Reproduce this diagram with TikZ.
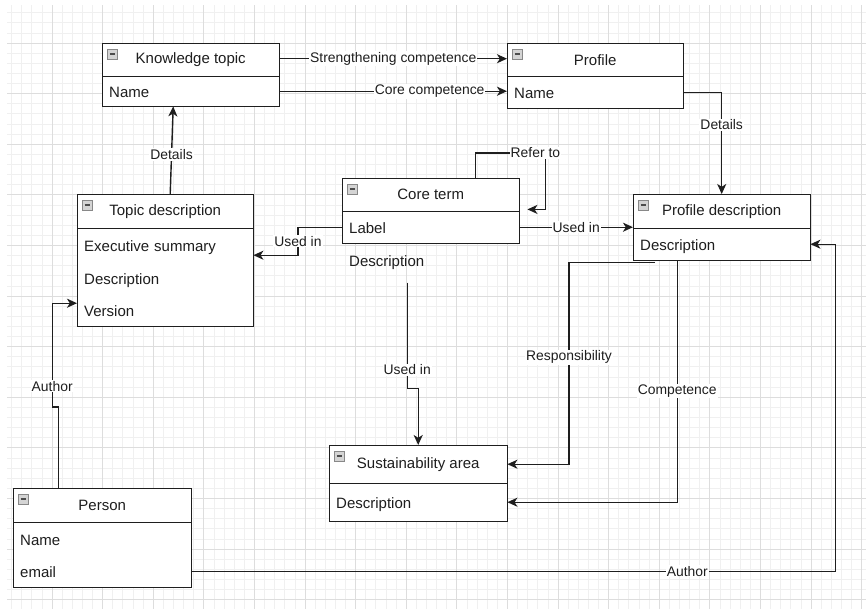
\documentclass[tikz,border=0pt]{standalone}
\usepackage{fontspec}
\setmainfont{Liberation Sans}
\usetikzlibrary{arrows.meta}
\definecolor{ink}{HTML}{1E1E1E}
\definecolor{gridminor}{HTML}{F0F0F0}
\definecolor{gridmajor}{HTML}{DDDDDD}
\definecolor{iconfill}{HTML}{D4D4D4}
\definecolor{icondraw}{HTML}{888888}
\tikzset{
  boxframe/.style={draw=ink, line width=1.4pt, fill=white, rectangle, inner sep=0pt},
  hdr/.style={rectangle, inner sep=0pt, font=\fontsize{15}{18}\selectfont, text=ink},
  rowtxt/.style={rectangle, inner xsep=7pt, inner ysep=0pt, align=left, font=\fontsize{15}{18}\selectfont, text=ink, text height=14pt, text depth=1pt},
  lbl/.style={fill=white, inner sep=1pt, font=\fontsize{13.9}{16}\selectfont, text=ink},
  conn/.style={draw=ink, line width=1.4pt},
  arr/.style={conn, -{Stealth[length=10pt,width=9pt,inset=2.8pt]}},
  divline/.style={draw=ink, line width=1.4pt},
}
% #1 name, #2 x, #3 y, #4 width, #5 header height, #6 total height, #7 title
\newcommand\umlbox[7]{%
  \node[boxframe, minimum width=#4pt, minimum height=#6pt, anchor=north west] (#1) at (#2,#3) {};
  \node[hdr, minimum width=#4pt, minimum height=#5pt, anchor=north west] (#1-h) at (#2,#3) {#7};
  \draw[divline] (#1-h.south west) -- (#1-h.south east);
  \draw[fill=iconfill, draw=icondraw, line width=0.7pt] (#2+5,#3+6) rectangle ++(10,10);
  \draw[draw=black!70, line width=1.4pt] (#2+7.5,#3+11) -- ++(5,0);
}
% #1 name, #2 x, #3 y, #4 text width, #5 height, #6 text
\newcommand\umlrow[6]{%
  \node[rowtxt, text width=#4pt, minimum height=#5pt, anchor=north west] (#1) at (#2,#3) {#6};
}
\begin{document}
\begin{tikzpicture}[x=1pt,y=-1pt]
\useasboundingbox (0,0) rectangle (866,614);
\fill[white] (0,0) rectangle (866,614);
% grid
\begin{scope}
\clip (7,5) rectangle (866,608);
\foreach \i in {0,...,86} \draw[gridminor, line width=0.7pt] (11.5+\i*10.12,0) -- ++(0,620);
\foreach \i in {0,...,61} \draw[gridminor, line width=0.7pt] (0,2.5+\i*10.12) -- ++(870,0);
\foreach \i in {0,...,17} \draw[gridmajor, line width=0.8pt] (1.4+\i*50.6,0) -- ++(0,620);
\foreach \i in {0,...,13} \draw[gridmajor, line width=0.8pt] (0,-7.6+\i*50.6) -- ++(870,0);
\end{scope}

% boxes
\umlbox{kt}{102}{43}{177}{33}{63}{Knowledge topic}
\umlrow{kt-r1}{102}{76}{163}{30}{Name}

\umlbox{pr}{507}{43}{176}{33}{65}{Profile}
\umlrow{pr-r1}{507}{76}{162}{32}{Name}

\umlbox{td}{77}{194}{176}{34}{132}{Topic description}
\umlrow{td-r1}{77}{228}{162}{33}{Executive summary}
\umlrow{td-r2}{77}{261}{162}{33}{Description}
\umlrow{td-r3}{77}{294}{162}{32}{Version}

\umlbox{ct}{342}{178}{177}{33}{65}{Core term}
\umlrow{ct-r1}{342}{211}{163}{32}{Label}
\node[rowtxt, anchor=west] (ctdesc) at (342,260) {Description};

\umlbox{pd}{633}{194}{177}{34}{66}{Profile description}
\umlrow{pd-r1}{633}{228}{163}{32}{Description}

\umlbox{sa}{329}{445}{178}{38}{76}{Sustainability area}
\umlrow{sa-r1}{329}{483}{164}{38}{Description}

\umlbox{pe}{13}{488}{178}{34}{99}{Person}
\umlrow{pe-r1}{13}{522}{164}{33}{Name}
\umlrow{pe-r2}{13}{555}{164}{32}{email}

% connectors
\draw[arr] ([yshift=1pt]kt-h.east) -- node[lbl]{Strengthening competence} ([yshift=1pt]kt-h.east -| pr-h.west);
\draw[arr] (kt-r1.east) -- node[lbl,pos=0.66]{Core competence} (kt-r1.east -| pr-r1.west);
\draw[arr] ([xshift=5pt]td-h.north) -- node[lbl,pos=0.45]{Details} ([xshift=-17.5pt]kt-r1.south);
\draw[arr] (pr-r1.east) -| node[lbl,pos=0.66]{Details} (pd-h.north);
\draw[arr] ([xshift=44.5pt]ct-h.north) -- ++(0,-25) -- node[lbl,pos=0.86]{Refer to} ++(70,0) |- ([xshift=8pt,yshift=2pt]ct-h.south east);
\draw[arr] (ct-r1.west) -- ++(-44,0) |- node[lbl,pos=0.25]{Used in} ([yshift=-10.5pt]td-r1.east);
\draw[arr] (ct-r1.east) -- node[lbl]{Used in} (ct-r1.east -| pd-r1.west);
\draw[arr] ([xshift=20.5pt,yshift=-15pt]ctdesc.south) -- node[lbl,pos=0.82]{Used in} ++(0,106) -| (sa-h.north);
\draw[arr] ([xshift=22pt,yshift=-2pt]pd-r1.south west) -- ++(-86,0) |- node[lbl,pos=0.235]{Responsibility} (sa-h.east);
\draw[arr] ([xshift=-44.5pt]pd-r1.south) |- node[lbl,pos=0.27]{Competence} (sa-r1.east);
\draw[arr] (pe-r2.east) -- node[lbl,pos=0.77]{Author} ++(644,0) |- (pd-r1.east);
\draw[arr] ([xshift=-44pt]pe-h.north) -- ++(0,-81) -- ++(-6,0) |- node[lbl,pos=0.1]{Author} ([yshift=7pt]td-r3.west);
\end{tikzpicture}
\end{document}
